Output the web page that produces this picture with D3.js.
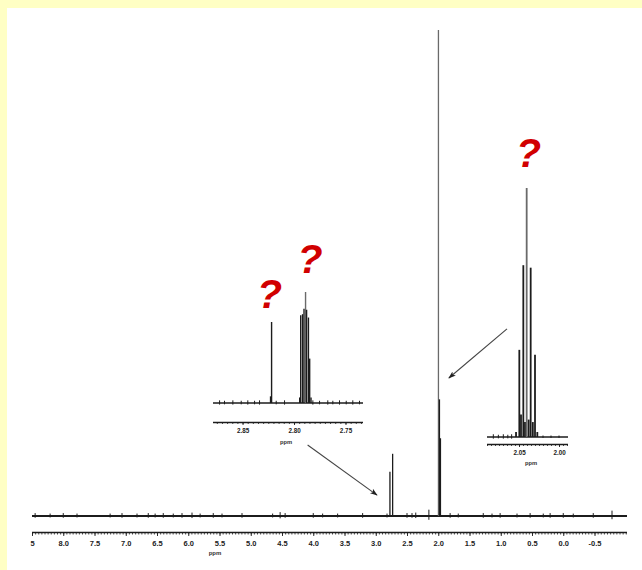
<!DOCTYPE html>
<html><head><meta charset="utf-8">
<script src="https://cdn.jsdelivr.net/npm/d3@7"></script>
<style>html,body{margin:0;padding:0;background:#fff}svg{display:block}</style>
</head><body>
<svg id="c" width="642" height="570"></svg>
<script>
// ---------- DATA ----------
// main spectrum (ppm / relative intensity, 100 = tallest line)
const mainTickValues = [8.5,8.0,7.5,7.0,6.5,6.0,5.5,5.0,4.5,4.0,3.5,3.0,2.5,2.0,1.5,1.0,0.5,0.0,-0.5];
const mainTickLabels = ["5","8.0","7.5","7.0","6.5","6.0","5.5","5.0","4.5","4.0","3.5","3.0","2.5","2.0","1.5","1.0","0.5","0.0","-0.5"];
const mainPeakPpm    = [2.773, 2.730, 1.997, 1.981, 1.965];
const mainPeakHeight = [9.1, 12.8, 100, 24, 16];
const mainNoisePpm = [8.45,8.21,8.00,7.78,7.25,7.06,6.82,6.64,6.53,6.40,6.24,6.10,5.94,5.81,5.60,5.46,5.14,4.65,4.53,4.45,4.00,3.85,3.61,3.21,2.82,2.50,2.42,2.36,2.15,1.81,1.68,1.28,1.14,1.01,0.74,0.53,0.32,0.21,0.00,-0.16,-0.48,-0.78];
const mainNoiseAmp = [0.6,0.5,0.6,0.5,0.5,0.6,0.5,0.6,0.5,0.6,0.5,0.6,0.7,0.5,0.6,0.5,0.6,0.5,0.8,0.6,0.6,0.5,0.5,0.6,0.5,0.6,0.6,0.7,1.3,0.6,0.5,0.6,0.5,0.6,0.5,0.6,0.5,0.6,0.6,0.5,0.6,1.1];

// inset 1 (2.88 – 2.73 ppm)
const inset1TickValues = [2.85, 2.80, 2.75];
const inset1TickLabels = ["2.85","2.80","2.75"];
const inset1PeakPpm    = [2.8228,2.8218,2.7945,2.7935,2.7917,2.7903,2.7888,2.7878,2.7860,2.7848,2.7835];
const inset1PeakHeight = [6, 73, 5, 79, 80, 85, 100, 84, 77, 40, 5];
const inset1NoisePpm = [2.8723,2.8675,2.8594,2.8513,2.8449,2.8383,2.8335,2.8173,2.8092,2.7817,2.7752,2.7672,2.7623,2.7558,2.7493,2.7429,2.7364];
const inset1NoiseAmp = [2.4,2.0,2.4,2.0,2.4,2.0,2.4,2.0,2.4,2.4,2.0,2.4,2.0,2.4,2.0,2.4,2.0];

// inset 2 (2.09 – 1.99 ppm)
const inset2TickValues = [2.05, 2.00];
const inset2TickLabels = ["2.05","2.00"];
const inset2PeakPpm    = [2.0537,2.0496,2.0475,2.0446,2.0425,2.0404,2.0379,2.0354,2.0327,2.0300,2.0271];
const inset2PeakHeight = [2, 35, 9, 69, 6, 100, 7, 68, 6, 33, 2];
const inset2NoisePpm = [2.0821,2.0758,2.0696,2.0640,2.0592,2.0200,2.0100,2.0000];
const inset2NoiseAmp = [1.1,0.9,1.1,0.9,1.1,0.6,0.6,0.6];

// annotations (main-spectrum coordinates: ppm, intensity)
const arrowStart = [[4.09, 14.6],[0.90, 38.5]];
const arrowEnd   = [[2.98, 4.3],[1.83, 28.4]];

// ---------- DRAW ----------
const svg = d3.select("#c");
svg.append("rect").attr("width",642).attr("height",570).attr("fill","#ffffc4");
svg.append("rect").attr("x",7).attr("y",8).attr("width",635).attr("height",562).attr("fill","#ffffff");

const FONT = "'Liberation Sans', Arial, sans-serif";
const INK = "#1c1c1c";

function panel(o){
  const x = d3.scaleLinear().domain(o.domain).range(o.xr);
  const y = d3.scaleLinear().domain([0,100]).range([o.base, o.top]);
  const g = svg.append("g");
  // baseline
  g.append("line").attr("x1",o.xr[0]).attr("x2",o.xr[1])
    .attr("y1",y(0)).attr("y2",y(0)).attr("stroke",INK).attr("stroke-width",o.baseW);
  // noise
  g.selectAll("line.n").data(o.noisePpm).join("line").attr("class","n")
    .attr("x1",d=>x(d)).attr("x2",d=>x(d))
    .attr("y1",(d,i)=>y(-o.noiseAmp[i]*0.6)).attr("y2",(d,i)=>y(o.noiseAmp[i]))
    .attr("stroke",INK).attr("stroke-width",1);
  // peaks
  g.selectAll("line.p").data(o.peakPpm).join("line").attr("class","p")
    .attr("x1",d=>x(d)).attr("x2",d=>x(d))
    .attr("y1",y(0)).attr("y2",(d,i)=>y(o.peakH[i]))
    .attr("stroke",(d,i)=>o.peakH[i]>=99.9 && o.grayTop ? "#6a6a6a" : INK)
    .attr("stroke-width",o.peakW);
  // minor ticks
  const minor = d3.axisBottom(x).tickValues(o.minor).tickSize(o.minorLen).tickFormat("").tickSizeOuter(0);
  const gm = g.append("g").attr("transform",`translate(0,${o.axisY})`).call(minor);
  gm.select(".domain").remove();
  gm.selectAll(".tick line").attr("stroke",INK).attr("stroke-width",0.8);
  // major ticks + labels
  const major = d3.axisBottom(x).tickValues(o.ticks).tickSize(o.majorLen).tickSizeOuter(0)
     .tickFormat((d,i)=>o.labels[i]);
  const ga = g.append("g").attr("transform",`translate(0,${o.axisY})`).call(major);
  ga.select(".domain").attr("stroke",INK).attr("stroke-width",o.axisW)
     .attr("d",`M${o.xr[0]},0.5H${o.xr[1]}`);
  ga.selectAll(".tick line").attr("stroke",INK).attr("stroke-width",0.9);
  ga.selectAll(".tick text").attr("y",o.labelY).attr("dy",0)
     .attr("font-size",o.fs).attr("font-family",FONT).attr("font-weight","bold").attr("fill","#222");
  g.append("text").attr("x",o.ppmX).attr("y",o.axisY+o.ppmY).attr("text-anchor","middle")
     .attr("font-size",o.ppmFs).attr("font-family",FONT).attr("font-weight","bold").attr("fill","#333").text("ppm");
  return {x,y};
}

const main = panel({
  domain:[8.5,-1.02], xr:[32,627], base:516, top:30, baseW:1.8,
  noisePpm:mainNoisePpm, noiseAmp:mainNoiseAmp,
  peakPpm:mainPeakPpm, peakH:mainPeakHeight, peakW:1.3, grayTop:true,
  minor:d3.range(-20,171).map(i=>i*0.05), minorLen:2.5,
  ticks:mainTickValues, labels:mainTickLabels, majorLen:4, axisY:532, axisW:1.5,
  labelY:13.5, fs:7.5, ppmX:215, ppmY:23, ppmFs:6
});

const in1 = panel({
  domain:[2.8787,2.7330], xr:[213,363], base:403, top:292, baseW:1.3,
  noisePpm:inset1NoisePpm, noiseAmp:inset1NoiseAmp,
  peakPpm:inset1PeakPpm, peakH:inset1PeakHeight, peakW:1.4, grayTop:true,
  minor:d3.range(547,576).map(i=>i*0.005), minorLen:2,
  ticks:inset1TickValues, labels:inset1TickLabels, majorLen:3, axisY:422, axisW:1.3,
  labelY:11, fs:6.3, ppmX:286, ppmY:22, ppmFs:5.8
});

const in2 = panel({
  domain:[2.09,1.98875], xr:[487,568], base:437, top:188, baseW:1.3,
  noisePpm:inset2NoisePpm, noiseAmp:inset2NoiseAmp,
  peakPpm:inset2PeakPpm, peakH:inset2PeakHeight, peakW:1.8, grayTop:true,
  minor:d3.range(398,419).map(i=>i*0.005), minorLen:2,
  ticks:inset2TickValues, labels:inset2TickLabels, majorLen:3, axisY:444, axisW:1.3,
  labelY:11, fs:6.3, ppmX:531, ppmY:21, ppmFs:5.8
});

// arrows
const defs = svg.append("defs");
defs.append("marker").attr("id","ah").attr("viewBox","0 0 10 10").attr("refX",9).attr("refY",5)
  .attr("markerWidth",7).attr("markerHeight",7).attr("orient","auto")
  .append("path").attr("d","M0,1.5L10,5L0,8.5L2.5,5z").attr("fill","#222");
svg.selectAll("line.arrow").data(arrowStart).join("line").attr("class","arrow")
  .attr("x1",d=>main.x(d[0])).attr("y1",d=>main.y(d[1]))
  .attr("x2",(d,i)=>main.x(arrowEnd[i][0])).attr("y2",(d,i)=>main.y(arrowEnd[i][1]))
  .attr("stroke","#444").attr("stroke-width",1.1).attr("marker-end","url(#ah)");

// question marks
const qs = [
  {sc:in1, ppm:2.8218, h:85.6},
  {sc:in1, ppm:2.7825, h:117},
  {sc:in2, ppm:2.0356, h:108.4}
];
svg.selectAll("text.q").data(qs).join("text").attr("class","q")
  .attr("x",d=>d.sc.x(d.ppm)-2).attr("y",d=>d.sc.y(d.h))
  .attr("text-anchor","middle").attr("font-family",FONT).attr("font-weight","bold")
  .attr("font-style","italic").attr("font-size",41).attr("fill","#d10000").text("?");
</script>
</body></html>
